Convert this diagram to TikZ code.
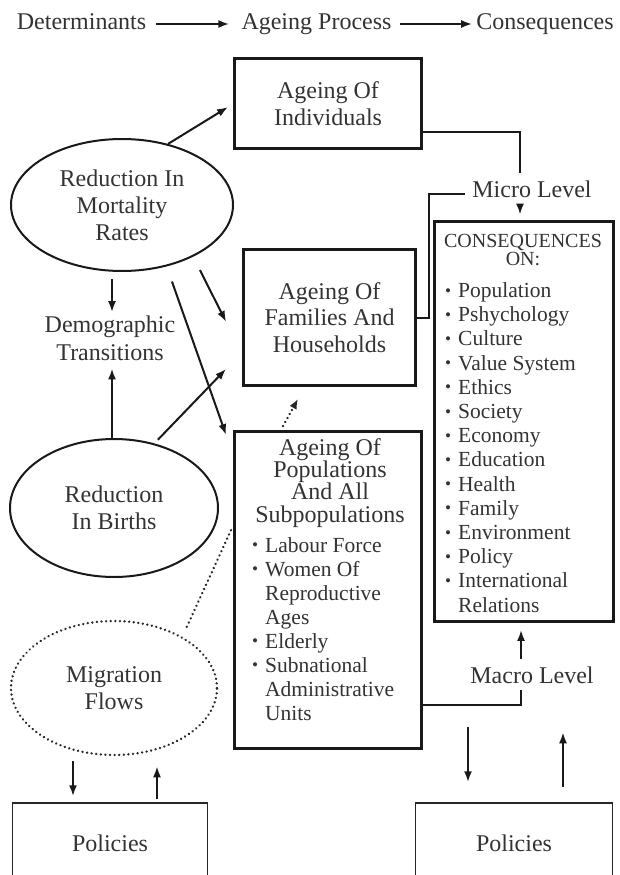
\documentclass[tikz,border=0pt]{standalone}
\usepackage{fontspec}
\setmainfont{Liberation Serif}
\usepackage{graphicx}
\usetikzlibrary{arrows.meta,shapes.geometric,positioning}

% vinetas de las listas
\newcommand{\bul}{\makebox[13pt][l]{\raisebox{0.06em}{\scalebox{0.8}{\textbullet}}}}
\newcommand{\nobul}{\makebox[13pt]{}}

\begin{document}
\begin{tikzpicture}[x=1pt,y=-1pt,
        every node/.style={text=black!80, inner sep=0pt},
        txt/.style={font=\fontsize{24}{27}\selectfont, align=center},
        hdr/.style={font=\fontsize{24}{27}\selectfont, text height=17pt, text depth=5pt},
        lst/.style={font=\fontsize{21.5}{24.2}\selectfont, align=left, anchor=base west},
        arr/.style={-{Latex[length=11pt,width=8pt]}, line width=2pt, draw=black!90},
        dotline/.style={line width=2.6pt, dash pattern=on 0.01pt off 4.6pt, line cap=round, draw=black!85},
        heavybox/.style={rectangle, draw=black!90, line width=3.8pt},
        thinbox/.style={rectangle, draw=black!85, line width=1.5pt},
        oval/.style={ellipse, draw=black!90, line width=2pt}]

        \useasboundingbox (0,0) rectangle (619,875);
        \fill[white] (0,0) rectangle (619,875);
        \clip (0,0) rectangle (619,875);

        % ===============================
        % Cabecera
        % ===============================
        \node[hdr, anchor=base] (det)    at (81.5,30)  {Determinants};
        \node[hdr, anchor=base] (proc)   at (316.5,30) {Ageing Process};
        \node[hdr, anchor=base] (conseq) at (545,30)   {Consequences};
        \draw[arr, shorten <=10pt, shorten >=12pt] (det) -- (proc);
        \draw[arr, shorten <=8pt, shorten >=4pt] (proc) -- (conseq);

        % ===============================
        % Determinantes
        % ===============================
        \node[oval, txt, minimum width=222pt, minimum height=132pt] (mort) at (122,205) {Reduction In\\Mortality\\Rates};
        \node[oval, txt, minimum width=208pt, minimum height=138pt] (birth) at (114,508) {Reduction\\In Births};
        \node[ellipse, dotline, txt, minimum width=206pt, minimum height=134pt] (mig) at (114,688) {Migration\\Flows};

        % (base = linea de base de la ultima fila)
        \node[txt, font=\fontsize{24}{28}\selectfont, anchor=base, inner sep=3pt] (demo) at (110,360) {Demographic\\Transitions};

        % ===============================
        % Proceso de envejecimiento
        % ===============================
        \node[heavybox, txt, minimum width=187pt, minimum height=90pt] (ind) at (328,103.5) {Ageing Of\\Individuals};
        \node[heavybox, txt, font=\fontsize{24}{26.7}\selectfont, minimum width=172pt, minimum height=136pt] (fam) at (329.5,317.5) {Ageing Of\\Families And\\Households};
        \node[heavybox, minimum width=187pt, minimum height=317pt] (pop) at (328,590) {};

        \node[anchor=base, align=center, font=\fontsize{24}{22.3}\selectfont] (poptitle) at (330,522)
            {Ageing Of\\Populations\\And All\\Subpopulations};
        \node[lst, font=\fontsize{21.5}{24}\selectfont] (poplist) at (252,720)
            {\bul Labour Force\\\bul Women Of\\\nobul Reproductive\\\nobul Ages\\\bul Elderly\\\bul Subnational\\\nobul Administrative\\\nobul Units};

        % ===============================
        % Consecuencias
        % ===============================
        \node[heavybox, minimum width=179pt, minimum height=400pt] (cons) at (524,421.5) {};
        \node[anchor=base, align=center, font={\fontsize{20}{18.5}\selectfont\lineskiplimit=-6pt}] (constitle) at (523,265.5)
            {CONSEQUENCES\\ON:};
        \node[lst] (conslist) at (445,612)
            {\bul Population\\\bul Pshychology\\\bul Culture\\\bul Value System\\\bul Ethics\\\bul Society\\\bul Economy\\\bul Education\\\bul Health\\\bul Family\\\bul Environment\\\bul Policy\\\bul International\\\nobul Relations};

        \node[txt, anchor=base, inner sep=7pt] (micro) at (532,197) {Micro Level};
        \node[txt, anchor=base, inner sep=7pt] (macro) at (532,683) {Macro Level};

        % Politicas
        \node[thinbox, txt, minimum width=195pt, minimum height=80pt] (polL) at (110,843) {Policies};
        \node[thinbox, txt, minimum width=197pt, minimum height=80pt] (polR) at (514,843) {Policies};

        % ===============================
        % Conectores
        % ===============================
        \draw[arr] (mort.53) -- ([xshift=-4.5pt,yshift=-3.5pt]ind.west);
        \draw[arr, shorten <=15pt] (mort.-36) -- ([xshift=-15.5pt,yshift=-4.5pt]fam.west);
        \draw[arr, shorten <=16pt] (mort.-54) -- ([xshift=-6.5pt,yshift=-5.5pt]pop.north west);
        \draw[arr] ([xshift=-10pt,yshift=-7pt]mort.south) -- ([xshift=2pt]demo.north);
        \draw[arr] ([xshift=-2pt]birth.north) -- ([xshift=2pt,yshift=-5pt]demo.south);
        \draw[arr, shorten <=5pt] (birth.58) -- ([xshift=-15.5pt,yshift=18.5pt]fam.south west);

        \draw[dotline, -{Latex[length=10pt,width=8pt]}] ([xshift=-45pt,yshift=3.5pt]pop.north) -- ([xshift=-31.5pt,yshift=-11.5pt]fam.south);
        \draw[dotline, shorten <=10.7pt] (mig.37) -- ([xshift=-1.5pt,yshift=60pt]pop.west);

        % niveles micro y macro
        \draw[line width=2pt, black!90] ([yshift=-28.5pt]ind.east) -| ([xshift=-12pt]micro.north);
        \draw[line width=2pt, black!90] (fam.east) -- ++(12,0) |- ([yshift=-5pt]micro.west);
        \draw[arr, shorten >=5pt] ([xshift=-12pt]micro.south) -- ([xshift=-12pt]micro.south |- cons.north);
        \draw[line width=2pt, black!90] ([yshift=45pt]pop.south east) -| ([xshift=-11pt]macro.south);
        \draw[arr, shorten >=6.5pt] ([xshift=-11pt]macro.north) -- ([xshift=-11pt]macro.north |- cons.south);

        % flechas de politicas
        \draw[arr] ([xshift=-41pt,yshift=-5pt]mig.south) -- ([xshift=-37pt,yshift=6pt]polL.north);
        \draw[arr] ([xshift=47pt,yshift=3pt]polL.north) -- ([xshift=43pt,yshift=-10pt]mig.south);
        \draw[arr] ([xshift=-46pt,yshift=75pt]polR.north) -- ([xshift=-46pt,yshift=20pt]polR.north);
        \draw[arr] ([xshift=49pt,yshift=15pt]polR.north) -- ([xshift=49pt,yshift=70pt]polR.north);

    \end{tikzpicture}
\end{document}
